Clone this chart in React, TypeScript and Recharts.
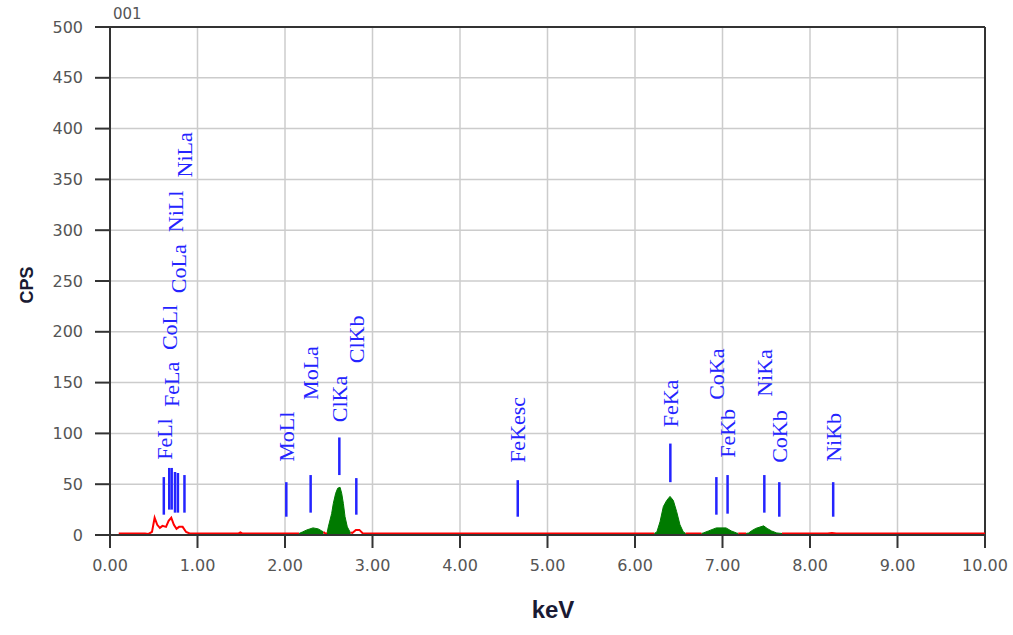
import {
  ComposedChart,
  Line,
  Area,
  XAxis,
  YAxis,
  CartesianGrid,
  ReferenceLine,
  ReferenceDot,
} from 'recharts'

// spectrum (keV, counts per second)
const ENERGY = [
  0.1, 0.2, 0.3, 0.4, 0.44, 0.48, 0.51, 0.54, 0.57, 0.6, 0.64, 0.67, 0.7, 0.73, 0.76, 0.79, 0.83, 0.87,
  0.91, 1.2, 1.47, 1.49, 1.51, 2.0, 2.14, 2.16, 2.2, 2.25, 2.32, 2.38, 2.42, 2.44, 2.46, 2.48, 2.495,
  2.533, 2.552, 2.579, 2.602, 2.629, 2.648, 2.667, 2.686, 2.712, 2.743, 2.75, 2.77, 2.81, 2.85, 2.89,
  3.5, 4.5, 5.5, 6.1, 6.2, 6.22, 6.25, 6.286, 6.324, 6.362, 6.4, 6.438, 6.476, 6.514, 6.552, 6.58, 6.65,
  6.76, 6.78, 6.84, 6.93, 7.04, 7.1, 7.16, 7.18, 7.22, 7.27, 7.3, 7.33, 7.38, 7.47, 7.51, 7.56, 7.62,
  7.68, 8.2, 8.25, 8.3, 8.35, 10.0,
]
const CPS = [
  1.5, 1.5, 1.5, 1.5, 1, 3, 17, 10, 7, 9, 8, 14, 17, 10, 6, 8, 8, 3,
  1.5, 1.5, 1.5, 2.5, 1.5, 1.5, 1.5, 1.5, 3, 5, 7, 6, 4, 3, 1.5, 1.5, 8,
  21, 31, 41, 46, 47, 41, 31, 18, 8, 3, 2.5, 2, 5, 5, 1.5,
  1.5, 1.5, 1.5, 1.5, 1.5, 1.5, 3, 13, 28, 34, 38, 34, 23, 10, 3, 1.5, 1.5,
  1.5, 2, 4, 7, 7, 4, 2, 1.5, 1.5, 1.5, 2, 4, 6.5, 9, 6.5, 4, 2,
  1.5, 1.5, 2, 1.5, 1.5, 1.5,
]
const ROI_RANGES = [
  [2.16, 2.44],
  [2.48, 2.75],
  [6.22, 6.58],
  [6.76, 7.18],
  [7.27, 7.68],
]

const MARKER_NAMES = [
  'FeLl', 'CoLl', 'FeLa', 'NiLl', 'CoLa', 'NiLa', 'MoLl', 'MoLa', 'ClKa', 'ClKb',
  'FeKesc', 'FeKa', 'CoKa', 'FeKb', 'NiKa', 'CoKb', 'NiKb',
]
const MARKER_KEV = [
  0.615, 0.677, 0.705, 0.743, 0.776, 0.851, 2.015, 2.293, 2.621, 2.815,
  4.66, 6.404, 6.93, 7.058, 7.478, 7.649, 8.265,
]
const MARKER_LOW = [20, 25, 25, 22, 22, 22, 18, 22, 59, 20, 18, 52, 20, 21, 22, 18, 18]
const MARKER_HIGH = [57, 66, 66, 62, 61, 59, 52, 59, 96, 56, 54, 90, 57, 59, 59, 52, 52]
const LABEL_CPS = [74, 182, 126, 298, 238, 352, 72, 133, 111, 169, 71, 106, 133, 76, 136, 71, 72]

const X_TICKS = [0, 1, 2, 3, 4, 5, 6, 7, 8, 9, 10]
const Y_TICKS = [0, 50, 100, 150, 200, 250, 300, 350, 400, 450, 500]

const BLUE = '#2424ff'
const GREEN = '#007a00'
const TICK_STYLE = { fontSize: 16, fill: '#555', fontFamily: 'DejaVu Sans' }

const inRoi = (e: number) => ROI_RANGES.some(([a, b]) => e >= a && e <= b)
const insideRoi = (e: number) => ROI_RANGES.some(([a, b]) => e > a && e < b)

const data = ENERGY.map((e, i) => ({
  e,
  // red trace is hidden under the filled peak regions
  bg: insideRoi(e) ? null : CPS[i],
  roi: inRoi(e) ? CPS[i] : null,
}))

function MarkerLabel({ cx, cy, text }: { cx?: number; cy?: number; text: string }) {
  if (cx == null || cy == null) return null
  return (
    <text
      x={cx}
      y={cy}
      dy="0.35em"
      transform={`rotate(-90 ${cx} ${cy})`}
      textAnchor="start"
      fill={BLUE}
      fontFamily="Liberation Serif"
      fontSize={22}
    >
      {text}
    </text>
  )
}

export default function App() {
  return (
    <div style={{ position: 'absolute', left: 0, top: 0, width: 1013, height: 635, background: '#fff' }}>
      <ComposedChart
        width={1013}
        height={635}
        data={data}
        margin={{ top: 27, right: 28, bottom: 70, left: 0 }}
      >
        <CartesianGrid stroke="#cccccc" strokeWidth={1.5} />
        <XAxis
          dataKey="e"
          type="number"
          domain={[0, 10]}
          ticks={X_TICKS}
          tickFormatter={(v) => Number(v).toFixed(2)}
          height={30}
          tickSize={13}
          tickMargin={12}
          tick={TICK_STYLE}
          stroke="#333"
          strokeWidth={2}
          allowDataOverflow
        />
        <YAxis
          type="number"
          domain={[0, 500]}
          ticks={Y_TICKS}
          width={110}
          tickSize={15}
          tickMargin={12}
          tick={TICK_STYLE}
          stroke="#333"
          strokeWidth={2}
          allowDataOverflow
        />
        <ReferenceLine y={500} stroke="#333" strokeWidth={2} />
        <ReferenceLine x={10} stroke="#333" strokeWidth={2} />
        <Line
          dataKey="bg"
          type="linear"
          stroke="#ff0000"
          strokeWidth={2}
          dot={false}
          connectNulls={false}
          isAnimationActive={false}
        />
        <Area
          dataKey="roi"
          type="linear"
          stroke={GREEN}
          strokeWidth={1}
          fill={GREEN}
          fillOpacity={1}
          baseValue={0}
          connectNulls={false}
          isAnimationActive={false}
        />
        {MARKER_KEV.map((k, i) => (
          <ReferenceLine
            key={'l' + i}
            segment={[
              { x: k, y: MARKER_LOW[i] },
              { x: k, y: MARKER_HIGH[i] },
            ]}
            stroke={BLUE}
            strokeWidth={2.5}
          />
        ))}
        {MARKER_KEV.map((k, i) => (
          <ReferenceDot
            key={'t' + i}
            x={k}
            y={LABEL_CPS[i]}
            shape={(p: any) => <MarkerLabel cx={p.cx} cy={p.cy} text={MARKER_NAMES[i]} />}
          />
        ))}
      </ComposedChart>
      <div
        style={{
          position: 'absolute',
          left: 113,
          top: 5,
          fontFamily: 'DejaVu Sans',
          fontSize: 15,
          color: '#555',
        }}
      >
        001
      </div>
      <div
        style={{
          position: 'absolute',
          left: 27,
          top: 285,
          transform: 'translate(-50%, -50%) rotate(-90deg)',
          fontFamily: 'Liberation Sans',
          fontWeight: 'bold',
          fontSize: 18,
          color: '#1a1a33',
        }}
      >
        CPS
      </div>
      <div
        style={{
          position: 'absolute',
          left: 553,
          top: 610,
          transform: 'translate(-50%, -50%)',
          fontFamily: 'Liberation Sans',
          fontWeight: 'bold',
          fontSize: 24,
          color: '#1a1a33',
        }}
      >
        keV
      </div>
    </div>
  )
}
